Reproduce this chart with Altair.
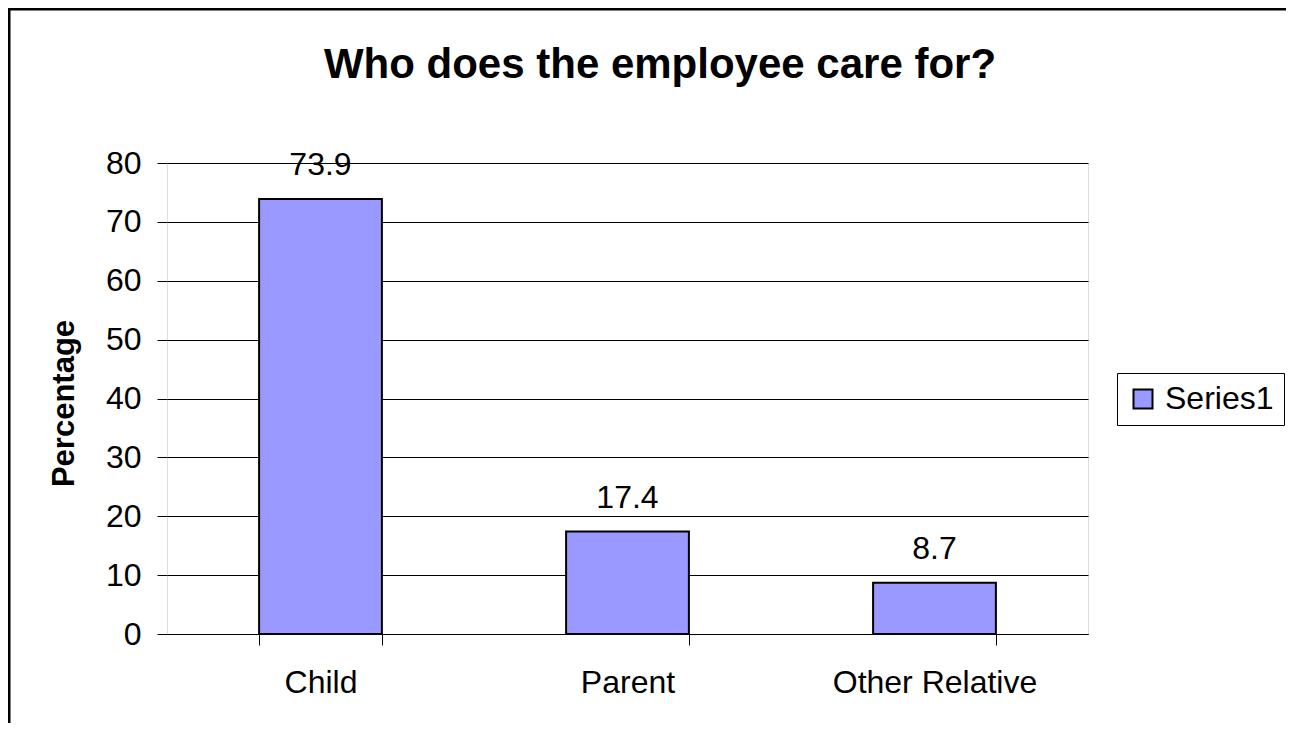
import altair as alt
import pandas as pd

categories = ["Child", "Parent", "Other Relative"]
values = [73.9, 17.4, 8.7]
series = ["Series1", "Series1", "Series1"]
y_ticks = [0, 10, 20, 30, 40, 50, 60, 70, 80]
title_text = ["Who does the employee care for?"]

df = pd.DataFrame({"who": categories, "pct": values, "series": series})
FONT = "Liberation Sans"

base = alt.Chart(df).encode(
    x=alt.X(
        "who:N",
        sort=categories,
        title=None,
        scale=alt.Scale(paddingInner=0.6, paddingOuter=0.3),
        axis=alt.Axis(
            labelAngle=0, labelFont=FONT, labelFontSize=32, labelColor="black",
            labelPadding=22, labelLimit=0, tickSize=11, tickColor="black", tickWidth=1,
            tickBand="extent", domainColor="black", domainWidth=1, grid=False,
        ),
    ),
    y=alt.Y(
        "pct:Q",
        title="Percentage",
        scale=alt.Scale(domain=[0, 80], nice=False),
        axis=alt.Axis(
            values=y_ticks, labelFont=FONT, labelFontSize=32, labelColor="black",
            labelPadding=16, tickSize=10, tickColor="black", tickWidth=1,
            domain=False, grid=True, gridColor="black", gridWidth=1,
            titleFont=FONT, titleFontSize=31, titleFontWeight="bold", titleColor="black",
            titleAngle=-90, titleX=-94, titleY=240, titleAlign="center",
            titleBaseline="alphabetic",
        ),
    ),
)

bars = base.mark_bar(stroke="black", strokeWidth=2).encode(
    color=alt.Color(
        "series:N",
        title=None,
        scale=alt.Scale(domain=["Series1"], range=["#9999FF"]),
        legend=alt.Legend(
            orient="none", legendX=950, legendY=210,
            strokeColor="black", fillColor="white", padding=10,
            symbolType="square", symbolSize=361, symbolStrokeColor="black",
            symbolStrokeWidth=2, labelFont=FONT, labelFontSize=32,
            labelColor="black", labelOffset=6, labelLimit=0,
        ),
    )
)

labels = base.mark_text(
    font=FONT, fontSize=32, color="black", baseline="alphabetic", dy=-24
).encode(text=alt.Text("pct:Q", format=".1f"))

frame_df = pd.DataFrame({"k": [0]})
left_border = alt.Chart(frame_df).mark_rule(color="black", strokeWidth=3).encode(
    x=alt.value(-158), y=alt.value(-155), y2=alt.value(620)
)
top_border = alt.Chart(frame_df).mark_rule(color="black", strokeWidth=3).encode(
    x=alt.value(-160), x2=alt.value(1140), y=alt.value(-154)
)

title_df = pd.DataFrame({"t": title_text})
title = alt.Chart(title_df).mark_text(
    font=FONT, fontSize=42, fontWeight="bold", color="black",
    align="center", baseline="alphabetic",
).encode(text="t:N", x=alt.value(493), y=alt.value(-85))

chart = (
    alt.layer(bars, labels, left_border, top_border, title)
    .properties(
        width=921,
        height=471,
        padding={"left": 159, "top": 155, "right": 198, "bottom": 89},
        autosize=alt.AutoSizeParams(type="none"),
    )
    .configure_view(fill="#C0C0C0", stroke="#808080", strokeWidth=2)
    .configure(background="white")
)

chart.save("out.html", embed_options={"renderer": "svg", "actions": False})
